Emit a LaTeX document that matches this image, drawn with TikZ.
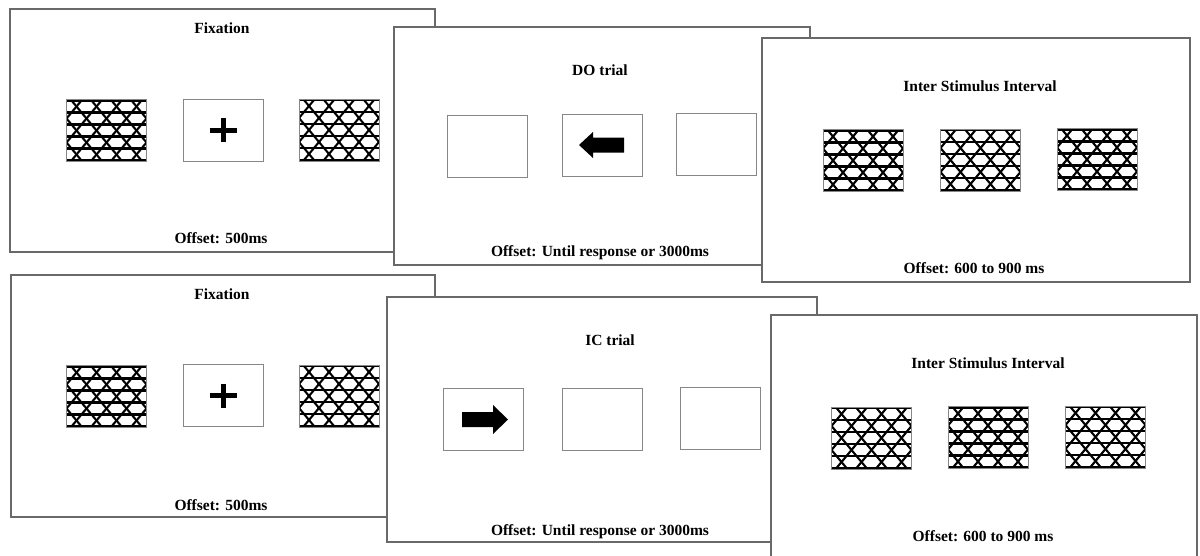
\documentclass[tikz,border=0pt]{standalone}
\usepackage{fontspec}
\setmainfont{Liberation Serif}
\usepackage{tikz}
\usetikzlibrary{positioning}
\definecolor{frameln}{RGB}{105,105,105}
\definecolor{boxln}{RGB}{135,135,135}

\tikzset{
  panel/.style={draw=frameln,line width=1.2pt,fill=white},
  stimbox/.style={draw=boxln,line width=0.9pt,fill=white,minimum width=80pt,
    minimum height=62pt,inner sep=0pt},
  % mask: trihexagonal lattice of thick black lines (origin = box centre)
  maskbox/.style={stimbox,path picture={
    \foreach \h in {-30,-18,-6,6,18,30}
      \draw[black,line width=2.1pt] (-45,\h) -- (45,\h);
    \foreach \k in {-4,...,6} {
      \draw[black,line width=2.1pt] (\k*20-90,-96) -- (\k*20+30,48);
      \draw[black,line width=2.1pt] (\k*20+30,-96) -- (\k*20-90,48);
    }}},
  heading/.style={font=\fontsize{15.5}{18}\selectfont\bfseries,inner sep=0pt},
  offsetlbl/.style={font=\fontsize{15.5}{18}\selectfont\bfseries,inner sep=0pt},
  crossln/.style={line width=5pt},
  arrowfill/.style={fill=black,line join=round}
}

\begin{document}
\begin{tikzpicture}[x=1pt,y=-1pt]
  \clip (0,0) rectangle (1200,555);
  \fill[white] (0,0) rectangle (1200,555);

  % ---- top row ----
  % fixation
  \draw[panel] (10,9) rectangle (435,252);
  \node[heading] (tfix) at (222,28) {Fixation};
  \node[maskbox] (tfa) at (106.5,130.5) {};
  \node[stimbox] (tfb) at (223,130) {};
  \node[maskbox] (tfc) at (339,130) {};
  \draw[crossln,shift={(tfb)}] (-13.5,0) -- (13.5,0) (0,-12) -- (0,12);
  \node[offsetlbl] (tfoff) at (221,238) {Offset: 500ms};
  % DO trial
  \draw[panel] (394,27) rectangle (810,265);
  \node[heading] (tdo) at (600,70) {DO trial};
  \node[stimbox] (tda) at (487.5,146) {};
  \node[stimbox] (tdb) at (602,145) {};
  \node[stimbox] (tdc) at (716,144.5) {};
  \fill[arrowfill,shift={(tdb)}] (-23,0) -- (-9,-13) -- (-9,-7.5) -- (22,-7.5)
    -- (22,7.5) -- (-9,7.5) -- (-9,13) -- cycle;
  \node[offsetlbl] (tdoff) at (600,253) {Offset: Until response or 3000ms};
  % inter stimulus interval
  \draw[panel] (762,38) rectangle (1190,282);
  \node[heading] (tisi) at (980,86) {Inter Stimulus Interval};
  \node[maskbox] (tia) at (863,160.5) {};
  \node[maskbox] (tib) at (980.5,160) {};
  \node[maskbox] (tic) at (1097,159.5) {};
  \node[offsetlbl] (tioff) at (974,268) {Offset: 600 to 900 ms};

  % ---- bottom row ----
  % fixation
  \draw[panel] (11,275) rectangle (435,517);
  \node[heading] (bfix) at (222,294) {Fixation};
  \node[maskbox] (bfa) at (106.5,396.5) {};
  \node[stimbox] (bfb) at (223,395.5) {};
  \node[maskbox] (bfc) at (339,396) {};
  \draw[crossln,shift={(bfb)}] (-13.5,0) -- (13.5,0) (0,-12) -- (0,12);
  \node[offsetlbl] (bfoff) at (221,505) {Offset: 500ms};
  % IC trial
  \draw[panel] (387,297) rectangle (817,542);
  \node[heading] (bic) at (610,340) {IC trial};
  \node[stimbox] (bca) at (483.5,419.5) {};
  \node[stimbox] (bcb) at (602.5,419) {};
  \node[stimbox] (bcc) at (720,418) {};
  \fill[arrowfill,shift={(bca)}] (24.5,0) -- (9.5,-14.5) -- (9.5,-7.5) -- (-21.5,-7.5)
    -- (-21.5,7.5) -- (9.5,7.5) -- (9.5,14.5) -- cycle;
  \node[offsetlbl] (bcoff) at (600,532) {Offset: Until response or 3000ms};
  % inter stimulus interval
  \draw[panel] (771,315) rectangle (1197,570);
  \node[heading] (bisi) at (988,363) {Inter Stimulus Interval};
  \node[maskbox] (bia) at (871.5,438) {};
  \node[maskbox] (bib) at (988,437.5) {};
  \node[maskbox] (bic) at (1105.5,437) {};
  \node[offsetlbl] (bioff) at (983,536) {Offset: 600 to 900 ms};
\end{tikzpicture}
\end{document}
